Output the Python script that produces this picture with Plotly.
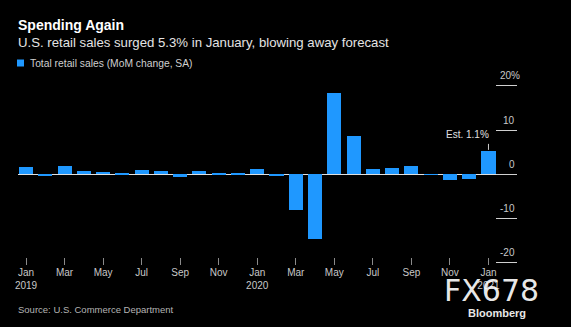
import plotly.graph_objects as go

# Monthly retail sales, month-over-month % change (seasonally adjusted)
months = ["2019-01", "2019-02", "2019-03", "2019-04", "2019-05", "2019-06",
          "2019-07", "2019-08", "2019-09", "2019-10", "2019-11", "2019-12",
          "2020-01", "2020-02", "2020-03", "2020-04", "2020-05", "2020-06",
          "2020-07", "2020-08", "2020-09", "2020-10", "2020-11", "2020-12",
          "2021-01"]
mom_change = [1.7, -0.2, 1.9, 0.75, 0.5, 0.3, 0.9, 0.75, -0.5, 0.75, 0.3, 0.1,
              1.1, -0.3, -8.1, -14.6, 18.4, 8.6, 1.3, 1.5, 1.9, -0.1, -1.2, -1.0,
              5.3]

x_tickvals = months[::2]
x_ticktext = ["Jan<br>2019", "Mar", "May", "Jul", "Sep", "Nov",
              "Jan<br>2020", "Mar", "May", "Jul", "Sep", "Nov", "Jan<br>2021"]
y_tickvals = [20, 10, 0, -10, -20]
y_ticktext = ["20%", "10", "0", "-10", "-20"]

estimate_month = "2021-01"
estimate_label = "Est. 1.1%"

BAR = "#1f98ff"
FONT = "Liberation Sans"

W, H = 571, 327
L, R, T, B = 18, 54, 80, 62
pw, ph = W - L - R, H - T - B

fig = go.Figure(go.Bar(
    x=months, y=mom_change, marker_color=BAR, marker_line_width=0,
    width=0.73, showlegend=False, hoverinfo="skip",
))

annotations = []
# Right-hand value labels sit just above their short grid ticks
for v, t in zip(y_tickvals, y_ticktext):
    annotations.append(dict(
        x=1, xref="paper", y=v, yref="y", text=t, showarrow=False,
        xanchor="right", yanchor="middle", yshift=10,
        xshift=5 if t.endswith("%") else 0,
        font=dict(family=FONT, size=10, color="#c8c8c8"),
    ))

# Estimate call-out over the latest bar
est_val = mom_change[months.index(estimate_month)]
annotations.append(dict(
    x=estimate_month, y=est_val, xref="x", yref="y", text=estimate_label,
    showarrow=False, xanchor="right", yanchor="bottom", xshift=3, yshift=9,
    font=dict(family=FONT, size=10, color="#e0e0e0"),
))

# Titles, legend text and source line, placed in pixels from the top-left
paper_text = [
    ("<b>Spending Again</b>", 16, 25, 14, "#ffffff"),
    ("U.S. retail sales surged 5.3% in January, blowing away forecast", 16, 42, 13.2, "#e4e4e4"),
    ("Total retail sales (MoM change, SA)", 28, 63, 10.3, "#cfcfcf"),
    ("Source: U.S. Commerce Department", 16, 309, 9.5, "#b4b4b4"),
]
for text, px, py, size, color in paper_text:
    annotations.append(dict(
        x=(px - L) / pw, y=(H - B - py) / ph, xref="paper", yref="paper",
        text=text, showarrow=False, xanchor="left", yanchor="middle",
        font=dict(family=FONT, size=size, color=color),
    ))

# Branding in the lower-right corner
annotations.append(dict(
    x=(491 - L) / pw, y=(H - B - 290) / ph, xref="paper", yref="paper",
    text="FX678", showarrow=False, xanchor="center", yanchor="middle",
    font=dict(family="DejaVu Sans", size=30, color="rgba(255,255,255,0.92)"),
))
annotations.append(dict(
    x=(497 - L) / pw, y=(H - B - 313) / ph, xref="paper", yref="paper",
    text="<b>Bloomberg</b>", showarrow=False, xanchor="center", yanchor="middle",
    font=dict(family=FONT, size=11, color="#e8e8e8"),
))

shapes = [
    # legend swatch
    dict(type="rect", xref="paper", yref="paper",
         x0=(17 - L) / pw, x1=(24 - L) / pw,
         y0=(H - B - 59.5) / ph, y1=(H - B - 66.5) / ph,
         fillcolor=BAR, line_width=0),
    # leader line for the estimate
    dict(type="line", xref="x", yref="y", x0=estimate_month, x1=estimate_month,
         ysizemode="pixel", yanchor=est_val, y0=1, y1=7,
         line=dict(color="#cccccc", width=1)),
]

fig.update_layout(
    width=W, height=H,
    margin=dict(l=L, r=R, t=T, b=B, pad=0),
    paper_bgcolor="#000000", plot_bgcolor="#000000",
    bargap=0, annotations=annotations, shapes=shapes,
    xaxis=dict(
        type="category", range=[-0.415, 25.48],
        tickvals=x_tickvals, ticktext=x_ticktext,
        ticks="inside", ticklen=7, tickcolor="#8a8a8a", tickwidth=1,
        tickfont=dict(family=FONT, size=10, color="#c8c8c8"),
        showgrid=False, zeroline=False, showline=False, fixedrange=True,
    ),
    yaxis=dict(
        side="right", range=[-20.47, 21.3],
        tickvals=y_tickvals, showticklabels=False,
        ticks="inside", ticklen=21, tickcolor="#d0d0d0", tickwidth=1,
        showgrid=False, zeroline=True, zerolinecolor="#e0e0e0", zerolinewidth=1,
        showline=False, fixedrange=True,
    ),
)

fig.write_html("out.html")
